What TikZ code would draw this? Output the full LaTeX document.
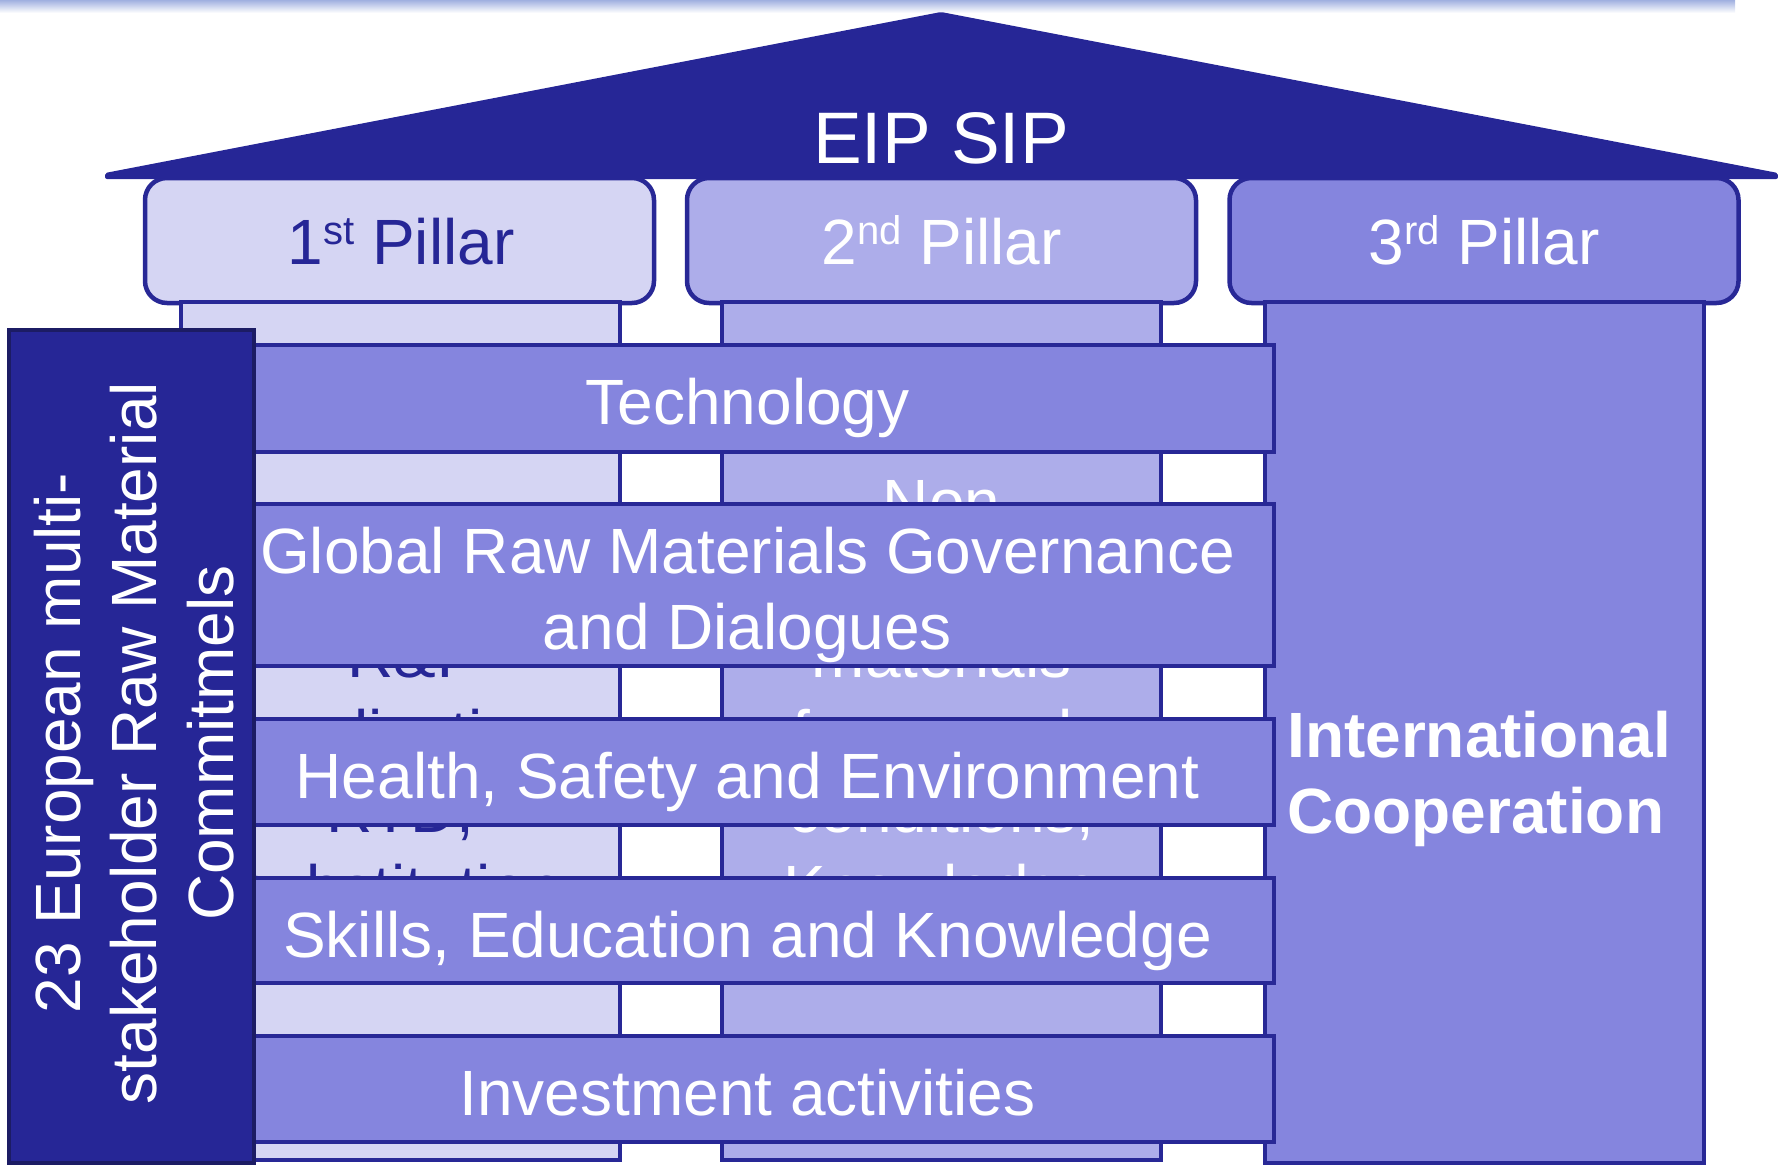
\documentclass[tikz,border=0pt]{standalone}
\usepackage{fontspec}
\setmainfont{Liberation Sans}
\definecolor{roofblue}{RGB}{38,38,150}
\definecolor{edgeblue}{RGB}{40,40,150}
\definecolor{navyedge}{RGB}{28,28,100}
\definecolor{lilacA}{RGB}{213,213,243}
\definecolor{lilacB}{RGB}{173,173,234}
\definecolor{lilacC}{RGB}{133,133,222}
\definecolor{topline}{RGB}{160,176,224}
\begin{document}
\begin{tikzpicture}[x=1pt,y=-1pt,
  shaftbox/.style={draw=edgeblue, line width=4pt, minimum width=439pt, minimum height=858pt, inner sep=0pt, outer sep=0pt},
  capbox/.style={draw=edgeblue, line width=4.5pt, rounded corners=22pt, minimum width=509pt, minimum height=125pt, inner sep=0pt, outer sep=0pt},
  bandbox/.style={draw=edgeblue, fill=lilacC, line width=4.5pt, minimum width=1053pt, inner sep=0pt, outer sep=0pt},
  txt/.style={font=\fontsize{64}{77}\selectfont, inner sep=0pt, anchor=base},
]
\useasboundingbox (0,0) rectangle (1778,1167);
% top separator line
\shade[top color=topline, bottom color=white] (0,0) rectangle (1735,13);
% pillar caps
\node[capbox, fill=lilacA] (cap1) at (399.5,240.5) {};
\node[capbox, fill=lilacB] (cap2) at (941.5,240.5) {};
\node[capbox, fill=lilacC] (cap3) at (1484,240.5) {};
% shafts
\node[shaftbox, fill=lilacA] (shaft1) at (400.5,731) {};
\node[shaftbox, fill=lilacB] (shaft2) at (941.5,731) {};
\node[shaftbox, fill=lilacC, minimum height=861pt] (shaft3) at (1484.5,732.5) {};
% roof
\fill[roofblue, rounded corners=2pt] (105,173) -- (941,12) -- (1778,173) -- (1778,179) -- (105,179) -- cycle;
\node[txt, text=white, font=\fontsize{73}{80}\selectfont] (eip) at (941,163) {EIP SIP};
% pillar labels
\node[txt, text=roofblue] (lbl1) at (401,264) {1\raisebox{0.3em}{\fontsize{40}{40}\selectfont st} Pillar};
\node[txt, text=white] (lbl2) at (941.5,264) {2\raisebox{0.3em}{\fontsize{40}{40}\selectfont nd} Pillar};
\node[txt, text=white] (lbl3) at (1484,264) {3\raisebox{0.3em}{\fontsize{40}{40}\selectfont rd} Pillar};
% text inside pillar 1 (partly hidden)
\node[txt, text=roofblue] (p1a) at (400.5,677) {R\&I};
\node[txt, text=roofblue] (p1b) at (400.5,755) {application};
\node[txt, text=roofblue] (p1c) at (400.5,832) {RTD,};
\node[txt, text=roofblue] (p1d) at (400.5,910) {substitution};
% text inside pillar 2 (partly hidden)
\node[txt, text=white] (p2a) at (941.5,524) {Non};
\node[txt, text=white] (p2b) at (941.5,677) {materials};
\node[txt, text=white] (p2c) at (941.5,755) {framework};
\node[txt, text=white] (p2d) at (941.5,832) {conditions,};
\node[txt, text=white] (p2e) at (941.5,910) {Knowledge};
% third pillar text
\node[txt, anchor=base west, text=white, font=\fontsize{64}{77}\bfseries\selectfont] (ic1) at (1287,757) {International};
\node[txt, anchor=base west, text=white, font=\fontsize{64}{77}\bfseries\selectfont] (ic2) at (1287,833) {Cooperation};
% horizontal bands
\node[bandbox, minimum height=107pt] (tech) at (747.5,398.5) {};
\node[bandbox, minimum height=162pt] (glob) at (747.5,585) {};
\node[bandbox, minimum height=106pt] (hse) at (747.5,772) {};
\node[bandbox, minimum height=105pt] (ske) at (747.5,930.5) {};
\node[bandbox, minimum height=106pt] (inv) at (747.5,1089) {};
\node[txt, text=white] (techt) at (747.5,424) {Technology};
\node[txt, text=white] (globt1) at (747.5,573) {Global Raw Materials Governance};
\node[txt, text=white] (globt2) at (747.5,649) {and Dialogues};
\node[txt, text=white] (hset) at (747.5,798) {Health, Safety and Environment};
\node[txt, text=white] (sket) at (747.5,957) {Skills, Education and Knowledge};
\node[txt, text=white] (invt) at (747.5,1115) {Investment activities};
% left box
\node[draw=navyedge, fill=roofblue, line width=4pt, minimum width=245pt, minimum height=833pt, inner sep=0pt, outer sep=0pt] (left) at (131.5,746.5) {};
\node[text=white, font=\fontsize{64}{76.5}\selectfont, align=center, rotate=90, inner sep=0pt] (leftt) at (134,743) {23 European multi-\\stakeholder Raw Material\\Commitmels};
\end{tikzpicture}
\end{document}
